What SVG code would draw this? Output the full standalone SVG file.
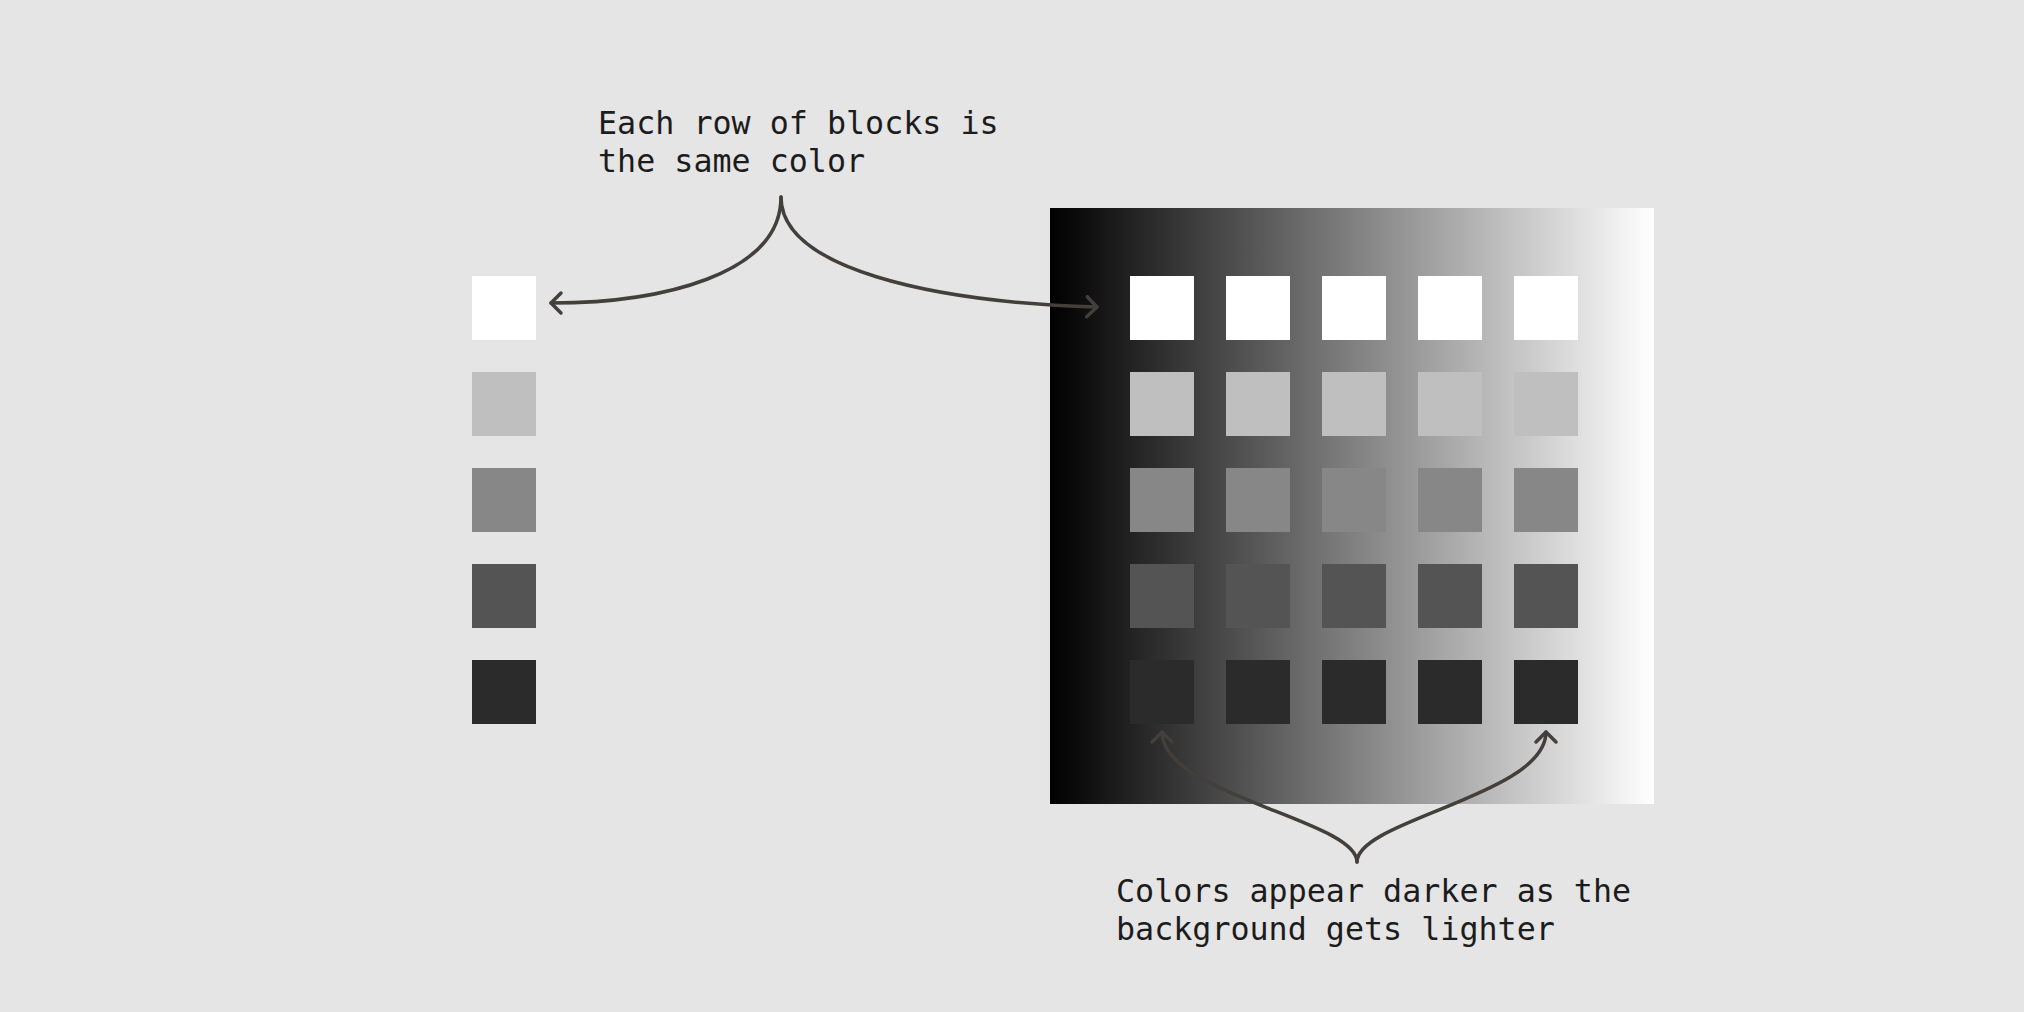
<svg xmlns="http://www.w3.org/2000/svg" width="2024" height="1012" viewBox="0 0 2024 1012">
<style>
.lbl{font-family:"DejaVu Sans Mono","Liberation Mono",monospace;font-size:31.7px;fill:#1c1c1c}
.conn{fill:none;stroke:#433f3b;stroke-width:3.5;stroke-linecap:round}
.r1{fill:#ffffff}.r2{fill:#bfbfbf}.r3{fill:#878787}.r4{fill:#545454}.r5{fill:#2b2b2b}
</style>
<defs>
<linearGradient id="bgGrad" x1="0" y1="0" x2="1" y2="0">
<stop offset="0" stop-color="#000000"/>
<stop offset="1" stop-color="#ffffff"/>
</linearGradient>
<marker id="arr" markerUnits="userSpaceOnUse" markerWidth="30" markerHeight="30" refX="15" refY="15" orient="auto" viewBox="0 0 30 30">
<path d="M5,5 L15,15 L5,25" fill="none" stroke="#433f3b" stroke-width="3.5" stroke-linecap="round" stroke-linejoin="round"/>
</marker>
</defs>
<rect width="2024" height="1012" fill="#e5e5e5"/>
<g id="left-column">
<rect class="r1" x="472" y="276" width="64" height="64"/>
<rect class="r2" x="472" y="372" width="64" height="64"/>
<rect class="r3" x="472" y="468" width="64" height="64"/>
<rect class="r4" x="472" y="564" width="64" height="64"/>
<rect class="r5" x="472" y="660" width="64" height="64"/>
</g>
<g id="gradient-panel">
<rect x="1050" y="208" width="604" height="596" fill="url(#bgGrad)"/>
<g id="grid-row1" class="r1">
<rect x="1130" y="276" width="64" height="64"/><rect x="1226" y="276" width="64" height="64"/><rect x="1322" y="276" width="64" height="64"/><rect x="1418" y="276" width="64" height="64"/><rect x="1514" y="276" width="64" height="64"/>
</g>
<g id="grid-row2" class="r2">
<rect x="1130" y="372" width="64" height="64"/><rect x="1226" y="372" width="64" height="64"/><rect x="1322" y="372" width="64" height="64"/><rect x="1418" y="372" width="64" height="64"/><rect x="1514" y="372" width="64" height="64"/>
</g>
<g id="grid-row3" class="r3">
<rect x="1130" y="468" width="64" height="64"/><rect x="1226" y="468" width="64" height="64"/><rect x="1322" y="468" width="64" height="64"/><rect x="1418" y="468" width="64" height="64"/><rect x="1514" y="468" width="64" height="64"/>
</g>
<g id="grid-row4" class="r4">
<rect x="1130" y="564" width="64" height="64"/><rect x="1226" y="564" width="64" height="64"/><rect x="1322" y="564" width="64" height="64"/><rect x="1418" y="564" width="64" height="64"/><rect x="1514" y="564" width="64" height="64"/>
</g>
<g id="grid-row5" class="r5">
<rect x="1130" y="660" width="64" height="64"/><rect x="1226" y="660" width="64" height="64"/><rect x="1322" y="660" width="64" height="64"/><rect x="1418" y="660" width="64" height="64"/><rect x="1514" y="660" width="64" height="64"/>
</g>
</g>
<g id="label-top">
<text class="lbl" x="598" y="134">Each row of blocks is</text>
<text class="lbl" x="598" y="172">the same color</text>
</g>
<g id="label-bottom">
<text class="lbl" x="1116" y="902">Colors appear darker as the</text>
<text class="lbl" x="1116" y="940">background gets lighter</text>
</g>
<g id="connectors">
<path class="conn" d="M781,197 C781,275 660,303 551,303" marker-end="url(#arr)"/>
<path class="conn" d="M781,197 C781,268 930,302 1097,307" marker-end="url(#arr)"/>
<path class="conn" d="M1357,862 C1357,820 1162,795 1162,732" marker-end="url(#arr)"/>
<path class="conn" d="M1357,862 C1357,820 1546,795 1546,732" marker-end="url(#arr)"/>
</g>
</svg>
